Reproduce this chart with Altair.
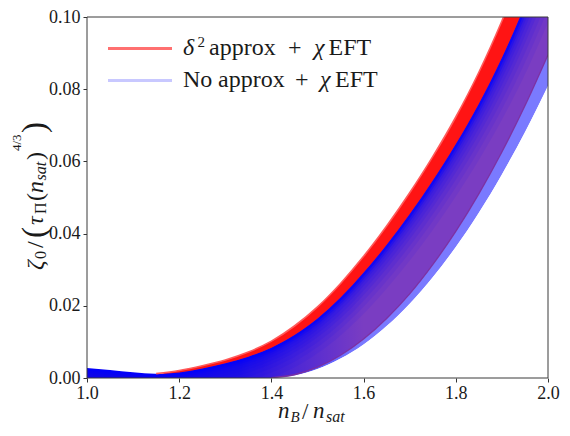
import altair as alt
import pandas as pd

# ---------------- data ----------------
X = [1.00, 1.05, 1.10, 1.15, 1.20, 1.25, 1.30, 1.35, 1.40, 1.45, 1.50,
     1.55, 1.60, 1.65, 1.70, 1.75, 1.80, 1.85, 1.90, 1.95, 2.00]
# upper edge of the delta^2-approx family (red)
RED_TOP = [0.0003, 0.0005, 0.0008, 0.0012, 0.0021, 0.0034, 0.0050, 0.0072, 0.0102, 0.0144, 0.0197,
           0.0262, 0.0337, 0.0421, 0.0513, 0.0613, 0.0723, 0.0847, 0.0989, 0.1147, 0.1317]
# lower edge of the delta^2-approx family (thin purple line)
RED_BOTTOM = [0.0, 0.0, 0.0, 0.0, 0.0, 0.0, 0.0, 0.0, 0.0001, 0.0009, 0.0030,
              0.0063, 0.0108, 0.0165, 0.0233, 0.0314, 0.0406, 0.0510, 0.0626, 0.0754, 0.0895]
# upper edge of the no-approx family (blue)
BLUE_TOP = [0.0028, 0.0022, 0.0016, 0.0011, 0.0015, 0.0026, 0.0041, 0.0059, 0.0084, 0.0119, 0.0165,
            0.0223, 0.0292, 0.0369, 0.0454, 0.0547, 0.0648, 0.0760, 0.0887, 0.1033, 0.1195]
# lower edge of the no-approx family (light blue)
BLUE_BOTTOM = [0.0, 0.0, 0.0, 0.0, 0.0, 0.0, 0.0, 0.0, 0.0, 0.0007, 0.0025,
               0.0054, 0.0093, 0.0144, 0.0206, 0.0279, 0.0363, 0.0458, 0.0564, 0.0681, 0.0809]
# outer upper envelope of everything drawn
OUTER_TOP = [0.0028, 0.0022, 0.0016, 0.0012, 0.0021, 0.0034, 0.0050, 0.0072, 0.0102, 0.0144, 0.0197,
             0.0262, 0.0337, 0.0421, 0.0513, 0.0613, 0.0723, 0.0847, 0.0989, 0.1147, 0.1317]

X_TICKS = [1.0, 1.2, 1.4, 1.6, 1.8, 2.0]
Y_TICKS = [0.0, 0.02, 0.04, 0.06, 0.08, 0.10]

LEGEND_1 = ["δ", "2", "approx", "+", "χ", "EFT"]
LEGEND_2 = ["No", "approx", "+", "χ", "EFT"]
XTITLE = ["n", "B", "/", "n", "sat"]
YTITLE = ["ζ", "0", "/", "(", "τ", "Π", "(", "n", "sat", ")", "4/3", ")"]

df = pd.DataFrame({"x": X, "c1": RED_TOP, "c2": BLUE_TOP, "c3": RED_BOTTOM,
                   "c4": BLUE_BOTTOM, "up": OUTER_TOP})
one = pd.DataFrame({"a": [1]})

W, H = 461, 361
FONT = "Liberation Serif, DejaVu Serif, serif"
xs = alt.Scale(domain=[1.0, 2.0], nice=False, zero=False)
ys = alt.Scale(domain=[0.0, 0.1], nice=False, zero=False)

axis_common = dict(title=None, grid=False, domain=False, tickSize=4, tickColor="#333333",
                   tickWidth=1, labelFont=FONT, labelFontSize=18, labelColor="#1a1a1a",
                   labelFlush=False)
X_AX = alt.Axis(values=X_TICKS, format=".1f", labelPadding=2, **axis_common)
Y_AX = alt.Axis(values=Y_TICKS, format=".2f", labelPadding=3, **axis_common)

base = alt.Chart(df)


def xe():
    return alt.X("x:Q", scale=xs, axis=X_AX)


def ye(field):
    return alt.Y(field, type="quantitative", scale=ys, axis=Y_AX)


layers = []
# red family (delta^2 approx), light body
layers.append(base.mark_area(color="#ff0000", opacity=0.5, clip=True, interpolate="monotone").encode(
    x=xe(), y=ye("c3"), y2=alt.Y2("c2")))
# blue family (no approx)
layers.append(base.mark_area(color="#0000ff", opacity=0.52, clip=True, interpolate="monotone").encode(
    x=xe(), y=ye("c4"), y2=alt.Y2("c2")))
# dense blue where the blue curves crowd together
low_grad = alt.Gradient(gradient="linear", x1=0, y1=0, x2=1, y2=0,
                        stops=[alt.GradientStop(offset=0, color="rgba(0,0,225,0.75)"),
                               alt.GradientStop(offset=0.55, color="rgba(0,0,235,0.65)"),
                               alt.GradientStop(offset=1, color="rgba(0,0,255,0)")])
layers.append(base.transform_filter("datum.x <= 1.6").mark_area(
    fill=low_grad, clip=True, interpolate="monotone").encode(
    x=xe(), y=ye("c4"), y2=alt.Y2("c2")))
# dense blue near the upper edge of the blue family
for w, o in [(56, 0.07), (46, 0.08), (38, 0.09), (30, 0.1), (24, 0.1), (18, 0.12),
             (13, 0.15), (9, 0.3), (5, 0.55)]:
    layers.append(base.mark_line(color="#0000ff", strokeWidth=w, opacity=o, clip=True,
                                 interpolate="monotone", strokeJoin="round").encode(
        x=xe(), y=ye("c2")))
# red band (only red curves)
layers.append(base.transform_filter("datum.x >= 1.15").mark_area(
    color="#ff1414", opacity=1, clip=True, interpolate="monotone").encode(
    x=xe(), y=ye("c2"), y2=alt.Y2("c1")))
# white outside the curves
layers.append(base.mark_area(color="white", opacity=1, clip=True, interpolate="monotone").encode(
    x=xe(), y=ye("up"), y2=alt.datum(0.1)))
layers.append(base.mark_area(color="white", opacity=1, clip=True, interpolate="monotone").encode(
    x=xe(), y=ye("c4"), y2=alt.datum(0.0)))
# edges
layers.append(base.transform_filter("datum.x >= 1.4").mark_line(
    color="#7d2f9c", strokeWidth=1.3, opacity=0.9, clip=True, interpolate="monotone").encode(
    x=xe(), y=ye("c3")))
layers.append(base.transform_filter("datum.x >= 1.15").mark_line(
    color="#ff5a5a", strokeWidth=1.6, clip=True, interpolate="monotone").encode(
    x=xe(), y=ye("c1")))

# frame
layers.append(alt.Chart(one).mark_rect(fillOpacity=0, stroke="#3a3a3a", strokeWidth=1).encode(
    x=alt.value(0), x2=alt.value(W), y=alt.value(0), y2=alt.value(H)))


def txt(s, x, y, size, italic=False, angle=0):
    kw = dict(text=s, font=FONT, fontSize=size, align="left", baseline="alphabetic",
              color="#1a1a1a", angle=angle)
    if italic:
        kw["fontStyle"] = "italic"
    return alt.Chart(one).mark_text(**kw).encode(x=alt.value(x), y=alt.value(y))


# legend
layers.append(alt.Chart(one).mark_rule(color="#ff7070", strokeWidth=3).encode(
    x=alt.value(21), x2=alt.value(85), y=alt.value(31.5)))
layers.append(alt.Chart(one).mark_rule(color="#c8c8ff", strokeWidth=3).encode(
    x=alt.value(21), x2=alt.value(85), y=alt.value(63.5)))
l1y, l2y = 38.0, 70.0
LF = 24
layers += [
    txt(LEGEND_1[0], 96, l1y, LF, italic=True),
    txt(LEGEND_1[1], 110.5, l1y - 8.3, 15),
    txt(LEGEND_1[2], 122, l1y, LF),
    txt(LEGEND_1[3], 201, l1y, LF),
    txt(LEGEND_1[4], 227, l1y, LF, italic=True),
    txt(LEGEND_1[5], 241.5, l1y, LF),
    txt(LEGEND_2[0], 96, l2y, LF),
    txt(LEGEND_2[1], 131, l2y, LF),
    txt(LEGEND_2[2], 208, l2y, LF),
    txt(LEGEND_2[3], 233, l2y, LF, italic=True),
    txt(LEGEND_2[4], 248, l2y, LF),
]

# x title  n_B / n_sat
layers += [
    txt(XTITLE[0], 191, 401, 23, italic=True),
    txt(XTITLE[1], 203.5, 405, 15, italic=True),
    txt(XTITLE[2], 215, 402, 23),
    txt(XTITLE[3], 226, 401, 23, italic=True),
    txt(XTITLE[4], 239, 405, 16, italic=True),
]

# y title  zeta_0 / (tau_Pi (n_sat)^{4/3})   (rotated, text runs upward)
A = 270
MB, SB, UB, BB = -44.5, -41, -66.5, -42   # baselines: main, sub, super, big paren
T0 = -17                                    # page -> plot offset
BP = 33                                     # big paren size
layers += [
    txt(YTITLE[0], MB, 270 + T0, 24, italic=True, angle=A),
    txt(YTITLE[1], SB, 259 + T0, 16, angle=A),
    txt(YTITLE[2], MB, 248 + T0, 24, angle=A),
    txt(YTITLE[3], BB, 238 + T0, BP, angle=A),
    txt(YTITLE[4], MB, 225 + T0, 24, italic=True, angle=A),
    txt(YTITLE[5], SB, 214 + T0, 16, angle=A),
    txt(YTITLE[6], MB, 201 + T0, 24, angle=A),
    txt(YTITLE[7], MB, 193 + T0, 24, italic=True, angle=A),
    txt(YTITLE[8], SB, 180.5 + T0, 16, italic=True, angle=A),
    txt(YTITLE[9], MB, 160 + T0, 24, angle=A),
    txt(YTITLE[10], UB, 151 + T0, 13, angle=A),
    txt(YTITLE[11], BB, 133 + T0, BP, angle=A),
]

chart = alt.layer(*layers).properties(
    width=W, height=H,
    autosize=alt.AutoSizeParams(type="none"),
    padding={"left": 79, "top": 9, "right": 14, "bottom": 50},
).configure_view(strokeWidth=0).configure_axis(
    labelFont=FONT, labelFontSize=18, labelFlush=False
)

chart.save("out.html", embed_options={"renderer": "svg", "actions": False})
